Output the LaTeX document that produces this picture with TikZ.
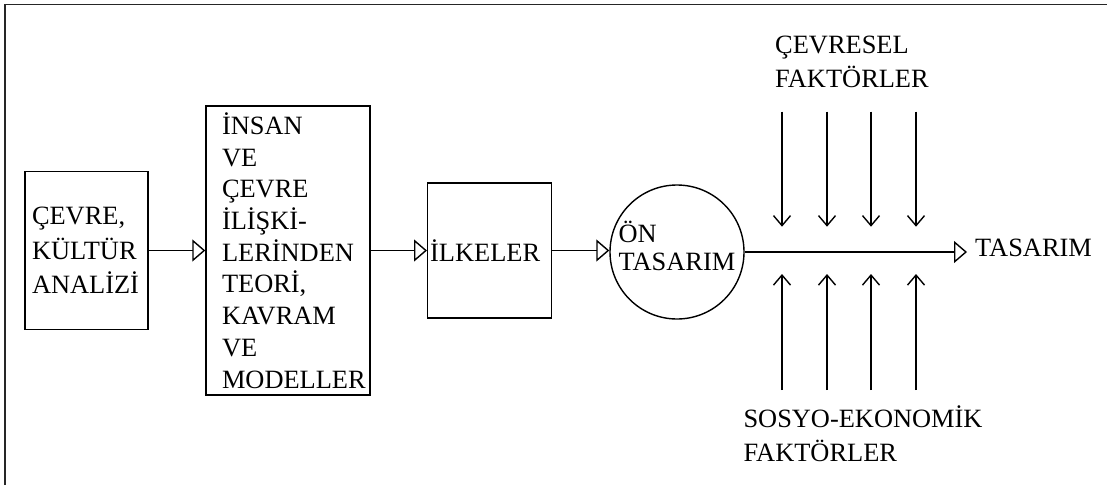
\documentclass[tikz,border=0pt]{standalone}
\usepackage{fontspec}
\setmainfont{Liberation Serif}
\usetikzlibrary{arrows.meta}
\hyphenpenalty=10000
\exhyphenpenalty=10000
\tikzset{
  ln/.style={line width=1.4pt},
  flow/.style={ln, -{Triangle[open, length=13pt, width=22pt, line width=1.4pt]}},
  fact/.style={ln, -{Straight Barb[length=10pt, width=17pt, line width=1.4pt]}},
  boxnode/.style={draw, ln, rectangle, inner xsep=0pt, inner ysep=0pt, align=left,
    font=\fontsize{26.4}{31.7}\selectfont},
  txt/.style={inner sep=0pt, align=left, font=\fontsize{26.4}{34}\selectfont},
}
\begin{document}
\begin{tikzpicture}[x=1pt, y=-1pt]
\useasboundingbox (0,0) rectangle (1107,485);
% frame
\draw[line width=1.8pt, black!85] (5,485) -- (5,4.5) -- (1107,4.5);
% boxes
\node[boxnode, minimum width=123pt, minimum height=158pt, text width=109pt,
      font=\fontsize{26.4}{34.5}\selectfont] (b1) at (86.5,250.5)
  {ÇEVRE,\\KÜLTÜR\\ANALİZİ};
\node[boxnode, minimum width=164pt, minimum height=289pt, text width=132pt] (b2) at (288,250.5)
  {İNSAN\\VE\\ÇEVRE\\İLİŞKİ-\\LERİNDEN\\TEORİ,\\KAVRAM\\VE\\MODELLER};
\node[boxnode, minimum width=124pt, minimum height=135pt, text width=119pt] (b3) at (489.7,250.5)
  {İLKELER};
\node[draw, ln, circle, inner sep=0pt, minimum size=134pt, align=left, text depth=12pt,
      font=\fontsize{26.4}{28.5}\selectfont] (circ) at (677,252)
  {ÖN\\TASARIM};
\node[inner sep=0pt, inner xsep=8pt, anchor=base west, font=\fontsize{26.4}{34}\selectfont] (tas) at (967,256.7) {TASARIM};
% main flow
\draw[flow] (b1.east) -- (b1.east -| b2.west);
\draw[flow] (b2.east) -- (b2.east -| b3.west);
\draw[flow] (b3.east) -- (b3.east -| circ.west);
\draw[flow] (circ.east) -- (circ.east -| tas.west);
% factor labels
\node[txt, anchor=base west] (cev) at (775,87.3) {ÇEVRESEL\\FAKTÖRLER};
\node[txt, anchor=base west] (sos) at (743.3,461) {SOSYO-EKONOMİK\\FAKTÖRLER};
% factor arrows
\foreach \i/\x in {1/782,2/827,3/871,4/916}{
  \coordinate (ts\i) at (\x,111.7);
  \coordinate (te\i) at (\x,226.7);
  \coordinate (bs\i) at (\x,390);
  \coordinate (be\i) at (\x,274);
  \draw[fact] (ts\i) -- (te\i);
  \draw[fact] (bs\i) -- (be\i);
}
\end{tikzpicture}
\end{document}
